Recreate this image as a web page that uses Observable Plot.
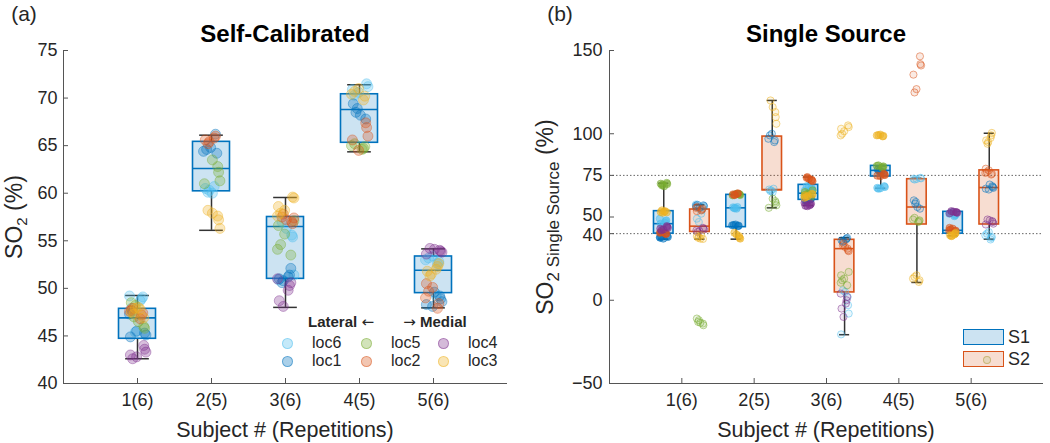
<!DOCTYPE html>
<html><head><meta charset="utf-8">
<script src="https://cdn.jsdelivr.net/npm/d3@7"></script>
<script src="https://cdn.jsdelivr.net/npm/@observablehq/plot@0.6"></script>
<style>
body{margin:0;background:#fff;font-family:"Liberation Sans",Arial,sans-serif;}
#wrap{position:relative;width:1050px;height:443px;overflow:hidden;background:#fff}
.abs{position:absolute;white-space:nowrap;color:#000;line-height:1}
.pl{position:absolute;top:0}
.arr{font-family:"DejaVu Sans",sans-serif;font-weight:normal}
</style></head><body><div id="wrap"></div>
<script>
// ---------- categories ----------
const subjects = ["1(6)","2(5)","3(6)","4(5)","5(6)"];
const locNames = ["loc6","loc1","loc5","loc2","loc4","loc3"];
const locColors = ["#4DBEEE","#0072BD","#77AC30","#D95319","#7E2F8E","#EDB120"];
const scTicks = [40,45,50,55,60,65,70,75];
const ssTicks = [-50,0,40,50,75,100,150];
const ssRefLines = [40,75];

// ---------- Self-Calibrated points (per subject) ----------
const sc_loc6 = [[49.2,49.1,48.9,48.7,47.9,45.4],[60.7,60.5,60.3,60.1,60.0],[57.0,56.3,55.6,55.4,51.4,50.9],[71.5,71.2,70.9,70.6,70.3],[53.4,53.2,53.0,52.8,52.6,49.2]];
const sc_loc1 = [[45.3,45.1,44.9,45.5,47.6,47.3],[64.8,64.6,64.4,64.2,66.2],[52.1,51.4,51.2,51.0,50.8,50.6],[69.4,68.9,68.5,68.2,67.8],[49.6,49.2,48.9,48.6,48.3,48.1]];
const sc_loc5 = [[48.5,48.2,47.0,46.5,46.0,45.8],[63.5,62.8,62.2,61.3,61.0],[57.1,56.6,55.7,54.6,54.1,53.5],[65.2,65.0,64.9,64.7,64.6],[]];
const sc_loc2 = [[47.9,47.6,47.4,47.2,46.8,47.7],[66.0,65.8,65.6,65.4,65.2],[57.8,57.5,57.2,57.0,56.8,57.4],[67.4,66.9,66.0,65.6,64.5],[50.5,50.1,49.7,49.0,48.4,47.9]];
const sc_loc4 = [[44.0,43.6,43.3,43.0,42.8,42.6],[],[51.0,50.6,50.3,49.8,48.7,48.1],[],[54.2,54.1,54.0,53.9,53.8,53.6]];
const sc_loc3 = [[47.8,47.5,47.9,47.3,48.0,46.9],[58.2,57.9,57.6,57.2,56.3],[59.6,59.5,58.6,58.2,57.9,57.6],[71.0,70.7,70.4,70.2,69.8],[52.6,52.3,52.0,51.8,51.5,51.3]];

// Self-Calibrated box statistics
const sc_lo  = [42.6, 56.1, 48.0, 64.35, 47.95];
const sc_q1  = [44.7, 60.2, 51.0, 65.3, 49.5];
const sc_med = [46.9, 62.6, 56.5, 68.8, 51.9];
const sc_q3  = [47.85, 65.4, 57.5, 70.4, 53.35];
const sc_hi  = [49.25, 66.1, 59.55, 71.4, 54.15];

// ---------- Single Source points: S1 ----------
const s1_loc6 = [[49,48,47.5,46.5,46,45],[56,55.8,55.5,55.2,55],[68.5,68,67.5,67,66.5,66],[68.5,68,67.5,67.2,67],[53,52.5,52,51.5,51,50.5]];
const s1_loc1 = [[38.5,38,37.5,37,38.2,37.8],[45.5,45.2,45,44.8,44.5],[61,60.5,60.3,60,59.8,59.5],[78.5,78,77.5,77,76.8],[]];
const s1_loc5 = [[70,69.5,69,68.5,70.5,69.8],[64,63.8,63.5,63.2,63],[66,65,64,63.5,63,62],[81,80.7,80.4,80,79.6],[]];
const s1_loc2 = [[41,40.5,40,39.8,40.2,40.8],[64.2,64,63.6,63.4,63.1],[74,73.5,73,72.5,72,71.5],[76,75.5,75.2,74.8,74.5],[43.5,43,42.5,42,41.8,41.5]];
const s1_loc4 = [[44.5,44,43.5,43,42.5,42],[],[58.5,58,57.5,57,56.8,56.5],[],[53.5,53.2,53,52.8,52.5,52.2]];
const s1_loc3 = [[53.5,53,52.5,54,53.2,52.8],[40.5,39.5,38.5,37.5,37],[64,63.5,63,62.5,62,61.5],[99.5,99.2,99,98.7,98.4],[40.5,40,39.5,39,38.8,38.5]];
// ---------- Single Source points: S2 ----------
const s2_loc6 = [[57.5,56,54,52,49,47],[67,66.5,66,65.5,65],[6,5,2,-3,-8,-20.5],[73.5,73.2,73,72.8,72.5],[41,40,39,38,37.5,36.5]];
const s2_loc1 = [[57,56.5,56,55.5,57.3,56.8],[100,99,97,96,95],[37.5,37,36.5,36,35.5,35],[60,59,58,56,55],[69.5,68.5,68,67.5,67,66.5]];
const s2_loc5 = [[-11,-12,-13,-13.5,-14,-15],[61,59.5,58.5,57,55.5],[17,15,13,12,10.5,9],[49.5,48.5,48,47.5,47],[]];
const s2_loc2 = [[56,55.5,55,54.5,54,53.5],[],[34,33,32,31,30,29.5],[146.5,141.8,141,135.5,126.8,124.8],[79,78,77,76.5,76,75.5]];
const s2_loc4 = [[43.5,43,42.5,42,41.5,41],[],[4,2,0,-2,-5,-10],[],[48.5,48,47.5,47,46,45.5]];
const s2_loc3 = [[39,38.5,38,37.5,37,36.8],[120,116,113,110,106],[105,104,103,101.5,100,99],[15,14,13,12,11],[100.5,99,97.5,96,95,94]];

// Single Source box statistics
const s1_lo  = [36.7, 36.7, 57.0, 67.3, 38.7];
const s1_q1  = [40.0, 43.9, 60.3, 74.3, 40.0];
const s1_med = [46.0, 55.5, 64.3, 78.0, 42.0];
const s1_q3  = [53.5, 63.3, 69.3, 80.7, 53.1];
const s1_hi  = [70.3, 63.3, 74.0, 80.7, 53.1];
const s2_lo  = [36.7, 55.5, -20.7, 10.7, 36.7];
const s2_q1  = [41.0, 66.0, 4.7, 45.5, 45.5];
const s2_med = [44.5, 66.5, 31.0, 56.0, 67.7];
const s2_q3  = [54.5, 98.3, 36.3, 72.7, 78.0];
const s2_hi  = [57.3, 120.0, 37.5, 73.3, 100.3];

// ---------- helpers ----------
const jit = [-0.9,0.3,-0.4,0.8,-0.1,0.6,-0.7,0.1,0.95,-0.55,0.45,-0.25,0.7,-0.8];
function rows(arrs, off, spread) {
  const out = [];
  arrs.forEach((arr, li) => arr.forEach((vals, si) => vals.forEach((v, j) => {
    out.push({x: si + 1 + off + spread * jit[(j * 5 + li * 3 + si) % jit.length], y: v, loc: locNames[li]});
  })));
  return out;
}
const ink = "#262626";
function boxMarks(lo, q1, med, q3, hi, off, w, capw, edge) {
  const idx = d3.range(q1.length);
  const cx = i => i + 1 + off;
  return [
    Plot.ruleX(idx, {x: cx, y1: i => lo[i], y2: i => q1[i], stroke: "#333", strokeWidth: 1.5}),
    Plot.ruleX(idx, {x: cx, y1: i => q3[i], y2: i => hi[i], stroke: "#333", strokeWidth: 1.5}),
    Plot.ruleY(idx, {y: i => lo[i], x1: i => cx(i) - capw/2, x2: i => cx(i) + capw/2, stroke: "#333", strokeWidth: 1.5}),
    Plot.ruleY(idx, {y: i => hi[i], x1: i => cx(i) - capw/2, x2: i => cx(i) + capw/2, stroke: "#333", strokeWidth: 1.5}),
    Plot.rect(idx, {x1: i => cx(i) - w/2, x2: i => cx(i) + w/2, y1: i => q1[i], y2: i => q3[i], fill: edge, fillOpacity: 0.2, stroke: edge, strokeWidth: 1.6}),
    Plot.ruleY(idx, {y: i => med[i], x1: i => cx(i) - w/2, x2: i => cx(i) + w/2, stroke: edge, strokeWidth: 1.6})
  ];
}
const font = {fontSize: "18px", fontFamily: "'Liberation Sans', Arial, sans-serif", color: ink, background: "transparent", overflow: "visible"};
const xTicks = [1,2,3,4,5];

// ---------- Panel (a) ----------
const aW = 520, aH = 443, aML = 63, aMR = 13, aMT = 50, aMB = 60;
const plotA = Plot.plot({
  width: aW, height: aH, marginLeft: aML, marginRight: aMR, marginTop: aMT, marginBottom: aMB,
  style: font,
  x: {domain: [0, 6], label: null},
  y: {domain: [40, 75], label: null},
  color: {domain: locNames, range: locColors},
  marks: [
    ...boxMarks(sc_lo, sc_q1, sc_med, sc_q3, sc_hi, 0, 0.5, 0.32, "#0072BD"),
    Plot.dot(rows([sc_loc6, sc_loc1, sc_loc5, sc_loc2, sc_loc4, sc_loc3], 0, 0.12),
      {x: "x", y: "y", r: 5, fill: "loc", stroke: "loc", fillOpacity: 0.3, strokeOpacity: 0.4, strokeWidth: 1}),
    Plot.axisX(xTicks, {tickFormat: d => subjects[d - 1], tickSize: 0, tickPadding: 10, label: null}),
    Plot.axisY(scTicks, {tickSize: 0, tickPadding: 6, label: null}),
    Plot.ruleX([0], {stroke: "#555"}),
    Plot.ruleY([40], {stroke: "#555"}),
    Plot.tickX(xTicks, {x: d => d, insetTop: (aH - aMT - aMB) - 5, stroke: "#555"}),
    Plot.tickY(scTicks, {y: d => d, insetRight: (aW - aML - aMR) - 5, stroke: "#555"})
  ]
});

// ---------- Panel (b) ----------
const bW = 530, bH = 443, bML = 89, bMR = 7, bMT = 50, bMB = 60;
const plotB = Plot.plot({
  width: bW, height: bH, marginLeft: bML, marginRight: bMR, marginTop: bMT, marginBottom: bMB,
  style: font,
  x: {domain: [0, 6], label: null},
  y: {domain: [-50, 150], label: null},
  color: {domain: locNames, range: locColors},
  marks: [
    Plot.ruleY(ssRefLines, {stroke: "#666", strokeDasharray: "1.5,2", strokeWidth: 1}),
    ...boxMarks(s1_lo, s1_q1, s1_med, s1_q3, s1_hi, -0.25, 0.27, 0.14, "#0072BD"),
    ...boxMarks(s2_lo, s2_q1, s2_med, s2_q3, s2_hi, 0.25, 0.27, 0.14, "#D95319"),
    Plot.dot(rows([s1_loc6, s1_loc1, s1_loc5, s1_loc2, s1_loc4, s1_loc3], -0.25, 0.06),
      {x: "x", y: "y", r: 3.6, fill: "loc", stroke: "loc", fillOpacity: 0.5, strokeOpacity: 0.5, strokeWidth: 1}),
    Plot.dot(rows([s2_loc6, s2_loc1, s2_loc5, s2_loc2, s2_loc4, s2_loc3], 0.25, 0.06),
      {x: "x", y: "y", r: 3.6, fill: "loc", stroke: "loc", fillOpacity: 0.12, strokeOpacity: 0.5, strokeWidth: 1}),
    Plot.axisX(xTicks, {tickFormat: d => subjects[d - 1], tickSize: 0, tickPadding: 10, label: null}),
    Plot.axisY(ssTicks.filter(d => d !== 40 && d !== 50), {tickSize: 0, tickPadding: 7, label: null}),
    Plot.axisY([50], {tickSize: 0, tickPadding: 7, label: null, dy: -1.5}),
    Plot.axisY([40], {tickSize: 0, tickPadding: 7, label: null, dy: 2}),
    Plot.ruleX([0], {stroke: "#555"}),
    Plot.ruleY([-50], {stroke: "#555"}),
    Plot.tickX(xTicks, {x: d => d, insetTop: (bH - bMT - bMB) - 5, stroke: "#555"}),
    Plot.tickY(ssTicks, {y: d => d, insetRight: (bW - bML - bMR) - 5, stroke: "#555"})
  ]
});

const wrap = document.getElementById("wrap");
plotA.classList.add("pl"); plotA.style.left = "0px";
plotB.classList.add("pl"); plotB.style.left = "520px";
wrap.appendChild(plotA); wrap.appendChild(plotB);

function label(html, x, y, css, rot) {
  const d = document.createElement("div");
  d.className = "abs";
  d.innerHTML = html;
  d.style.left = x + "px"; d.style.top = y + "px";
  d.style.transform = "translate(-50%,-50%)" + (rot ? " rotate(-90deg)" : "");
  Object.assign(d.style, css || {});
  wrap.appendChild(d);
  return d;
}
label("(a)", 24, 13, {fontSize: "21px", color: ink});
label("(b)", 560, 13, {fontSize: "21px", color: ink});
label("Self-Calibrated", 285, 34, {fontSize: "24px", fontWeight: "bold"});
label("Single Source", 826, 34, {fontSize: "24px", fontWeight: "bold"});
label("Subject # (Repetitions)", 285, 431, {fontSize: "21.5px", color: ink});
label("Subject # (Repetitions)", 826, 431, {fontSize: "21.5px", color: ink});
label("SO<sub style='font-size:15px;vertical-align:-5px'>2</sub> (%)", 16, 217, {fontSize: "23px", color: ink}, true);
label("SO<sub style='font-size:17px;vertical-align:-6px'>2 Single Source</sub> (%)", 548, 217, {fontSize: "23px", color: ink}, true);

// legend (a)
label("Lateral <span class='arr'>\u2190</span>", 341, 322, {fontSize: "15px", fontWeight: "bold", color: ink});
label("<span class='arr'>\u2192</span> Medial", 435, 322, {fontSize: "15px", fontWeight: "bold", color: ink});
const legPos = [[287,343],[287,361],[366,343],[366,361],[443,343],[443,361]];
locNames.forEach((n, i) => {
  const [cx, cy] = legPos[i];
  const c = document.createElement("div");
  c.className = "abs";
  Object.assign(c.style, {left: (cx-5)+"px", top: (cy-5)+"px", width: "9px", height: "9px", borderRadius: "50%",
    background: locColors[i] + "55", border: "1px solid " + locColors[i] + "77"});
  wrap.appendChild(c);
  const t = label(n, cx + 25, cy, {fontSize: "16px", color: ink});
  t.style.transform = "translate(0,-50%)";
});
// legend (b)
function legBox(y, edge, fill, txt, dot) {
  const b = document.createElement("div");
  b.className = "abs";
  Object.assign(b.style, {left: "963px", top: y + "px", width: "39px", height: "14px", background: fill, border: "1.5px solid " + edge});
  wrap.appendChild(b);
  if (dot) {
    const c = document.createElement("div");
    c.className = "abs";
    Object.assign(c.style, {left: "983px", top: (y+5) + "px", width: "6px", height: "6px", borderRadius: "50%", background: "#77AC3022", border: "1px solid #b5a04a99"});
    wrap.appendChild(c);
  }
  const t = label(txt, 1008, y + 8, {fontSize: "18px", color: ink});
  t.style.transform = "translate(0,-50%)";
}
legBox(329, "#0072BD", "#cce3f2", "S1", false);
legBox(351, "#D95319", "#f7ddd1", "S2", true);
</script></body></html>
